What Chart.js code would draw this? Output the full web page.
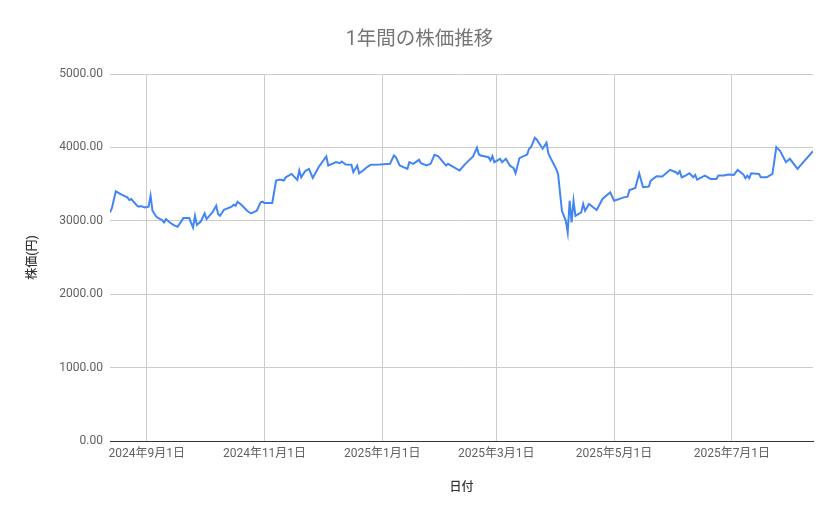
<!DOCTYPE html>
<html lang="ja">
<head>
    <meta charset="UTF-8">
    <title>1年間の株価推移</title>
    <style>
        body {
            margin: 0;
            padding: 0;
            background-color: #fff;
        }
        .chart {
            width: 839px;
            height: 519px;
        }
    </style>
    <script src="https://cdn.jsdelivr.net/npm/chart.js"></script>
</head>
<body>

    <div class="chart">
        <canvas id="priceChart"></canvas>
    </div>

    <script>
        // dates and closing prices
        const dates = [
            '2024-08-13', '2024-08-14', '2024-08-16', '2024-08-19', '2024-08-22', '2024-08-23', '2024-08-24',
            '2024-08-27', '2024-08-28', '2024-08-29', '2024-08-31', '2024-09-02', '2024-09-03', '2024-09-04',
            '2024-09-06', '2024-09-08', '2024-09-09', '2024-09-10', '2024-09-11', '2024-09-13', '2024-09-15',
            '2024-09-17', '2024-09-20', '2024-09-23', '2024-09-25', '2024-09-26', '2024-09-27', '2024-09-29',
            '2024-10-01', '2024-10-02', '2024-10-05', '2024-10-07', '2024-10-08', '2024-10-09', '2024-10-11',
            '2024-10-15', '2024-10-16', '2024-10-17', '2024-10-18', '2024-10-20', '2024-10-23', '2024-10-25',
            '2024-10-28', '2024-10-30', '2024-10-31', '2024-11-01', '2024-11-05', '2024-11-07', '2024-11-09',
            '2024-11-11', '2024-11-12', '2024-11-15', '2024-11-18', '2024-11-19', '2024-11-20', '2024-11-22',
            '2024-11-24', '2024-11-26', '2024-11-29', '2024-12-03', '2024-12-04', '2024-12-06', '2024-12-08',
            '2024-12-10', '2024-12-11', '2024-12-13', '2024-12-16', '2024-12-17', '2024-12-19', '2024-12-20',
            '2024-12-22', '2024-12-24', '2024-12-26', '2024-12-31', '2025-01-05', '2025-01-07', '2025-01-08',
            '2025-01-10', '2025-01-14', '2025-01-15', '2025-01-17', '2025-01-20', '2025-01-21', '2025-01-24',
            '2025-01-26', '2025-01-28', '2025-01-30', '2025-02-03', '2025-02-04', '2025-02-10', '2025-02-13',
            '2025-02-17', '2025-02-19', '2025-02-20', '2025-02-21', '2025-02-25', '2025-02-26', '2025-02-27',
            '2025-02-28', '2025-03-03', '2025-03-04', '2025-03-06', '2025-03-08', '2025-03-10', '2025-03-11',
            '2025-03-13', '2025-03-16', '2025-03-17', '2025-03-18', '2025-03-19', '2025-03-21', '2025-03-22',
            '2025-03-25', '2025-03-27', '2025-03-28', '2025-04-01', '2025-04-02', '2025-04-04', '2025-04-06',
            '2025-04-07', '2025-04-08', '2025-04-09', '2025-04-10', '2025-04-11', '2025-04-14', '2025-04-15',
            '2025-04-16', '2025-04-18', '2025-04-22', '2025-04-25', '2025-04-29', '2025-05-01', '2025-05-06',
            '2025-05-08', '2025-05-09', '2025-05-12', '2025-05-14', '2025-05-16', '2025-05-19', '2025-05-20',
            '2025-05-23', '2025-05-26', '2025-05-27', '2025-05-30', '2025-06-02', '2025-06-03', '2025-06-04',
            '2025-06-05', '2025-06-07', '2025-06-09', '2025-06-11', '2025-06-12', '2025-06-13', '2025-06-17',
            '2025-06-20', '2025-06-23', '2025-06-24', '2025-06-27', '2025-06-29', '2025-07-02', '2025-07-04',
            '2025-07-07', '2025-07-08', '2025-07-09', '2025-07-10', '2025-07-11', '2025-07-15', '2025-07-16',
            '2025-07-19', '2025-07-22', '2025-07-24', '2025-07-26', '2025-07-29', '2025-07-31', '2025-08-04',
            '2025-08-07', '2025-08-12'
        ];

        const prices = [
            3114, 3174, 3401, 3356, 3319, 3283, 3297,
            3205, 3192, 3201, 3183, 3192, 3342, 3137,
            3055, 3023, 3010, 2977, 3023, 2977, 2941,
            2918, 3037, 3037, 2908, 3068, 2945, 2990,
            3100, 3023, 3114, 3205, 3091, 3068, 3151,
            3192, 3219, 3205, 3260, 3219, 3137, 3100,
            3137, 3251, 3260, 3242, 3242, 3548, 3562,
            3548, 3593, 3639, 3557, 3685, 3593, 3676,
            3708, 3584, 3730, 3877, 3753, 3776, 3799,
            3785, 3808, 3767, 3763, 3662, 3753, 3648,
            3685, 3730, 3763, 3767, 3776, 3890, 3867,
            3753, 3708, 3799, 3776, 3831, 3785, 3753,
            3776, 3900, 3877, 3753, 3776, 3685, 3776,
            3877, 3995, 3904, 3890, 3867, 3822, 3881,
            3799, 3845, 3799, 3845, 3753, 3717, 3648,
            3854, 3890, 3904, 3982, 4004, 4132, 4105,
            3982, 4064, 3913, 3708, 3639, 3137, 3000,
            2840, 3274, 2977, 3274, 3068, 3114, 3228,
            3137, 3228, 3146, 3297, 3388, 3274, 3319,
            3329, 3420, 3447, 3648, 3457, 3466, 3548,
            3607, 3603, 3626, 3694, 3662, 3639, 3676,
            3593, 3616, 3648, 3593, 3626, 3562, 3616,
            3571, 3571, 3616, 3616, 3630, 3626, 3694,
            3630, 3580, 3616, 3580, 3648, 3639, 3593,
            3593, 3639, 4004, 3949, 3799, 3845, 3708,
            3799, 3949
        ];

        // x axis: first shown day, last shown day, and month ticks
        const startDate = '2024-08-13';
        const endDate = '2025-08-12';
        const tickDates = ['2024-09-01', '2024-11-01', '2025-01-01', '2025-03-01', '2025-05-01', '2025-07-01'];
        const tickLabels = ['2024年9月1日', '2024年11月1日', '2025年1月1日', '2025年3月1日', '2025年5月1日', '2025年7月1日'];
        const yTicks = [0, 1000, 2000, 3000, 4000, 5000];

        const fontFamily = "Roboto, 'Noto Sans CJK JP', sans-serif";
        const points = dates.map((d, i) => ({ x: Date.parse(d), y: prices[i] }));
        const tickValues = tickDates.map(d => Date.parse(d));

        const ctx = document.getElementById('priceChart').getContext('2d');
        new Chart(ctx, {
            type: 'line',
            data: {
                datasets: [{
                    label: '株価',
                    data: points,
                    borderColor: '#4285f4',
                    borderWidth: 2,
                    pointRadius: 0,
                    tension: 0,
                    fill: false
                }]
            },
            options: {
                responsive: true,
                maintainAspectRatio: false,
                animation: false,
                layout: {
                    // same padding both sides so the title centres on the page
                    padding: { left: 26, right: 26, top: 0, bottom: 0 }
                },
                plugins: {
                    legend: { display: false },
                    tooltip: { enabled: false },
                    title: {
                        display: true,
                        text: '1年間の株価推移',
                        color: '#757575',
                        font: { family: fontFamily, size: 19.5, weight: 'normal' },
                        padding: { top: 28, bottom: 22.6 }
                    }
                },
                scales: {
                    x: {
                        type: 'linear',
                        min: Date.parse(startDate),
                        max: Date.parse(endDate),
                        afterBuildTicks: axis => {
                            axis.ticks = tickValues.map(v => ({ value: v }));
                        },
                        afterFit: axis => { axis.height = 78; },
                        ticks: {
                            autoSkip: false,
                            maxRotation: 0,
                            color: '#616161',
                            padding: 6,
                            font: { family: fontFamily, size: 12 },
                            callback: (value) => tickLabels[tickValues.indexOf(value)]
                        },
                        grid: { color: '#cccccc', drawTicks: false },
                        border: { display: true, color: '#333333', width: 1 },
                        title: {
                            display: true,
                            text: '日付',
                            color: '#333333',
                            font: { family: fontFamily, size: 12, weight: 500 },
                            padding: { top: 0, bottom: 24 }
                        }
                    },
                    y: {
                        min: 0,
                        max: 5000,
                        afterBuildTicks: axis => {
                            axis.ticks = yTicks.map(v => ({ value: v }));
                        },
                        afterFit: axis => { axis.width = 84; },
                        ticks: {
                            color: '#616161',
                            padding: 7,
                            font: { family: fontFamily, size: 12 },
                            callback: (value) => value.toFixed(2)
                        },
                        grid: { color: '#cccccc', drawTicks: false },
                        border: { display: false },
                        title: {
                            display: true,
                            text: '株価(円)',
                            color: '#333333',
                            font: { family: fontFamily, size: 12, weight: 500 },
                            padding: { top: 0, bottom: 0 }
                        }
                    }
                }
            }
        });
    </script>
</body>
</html>
